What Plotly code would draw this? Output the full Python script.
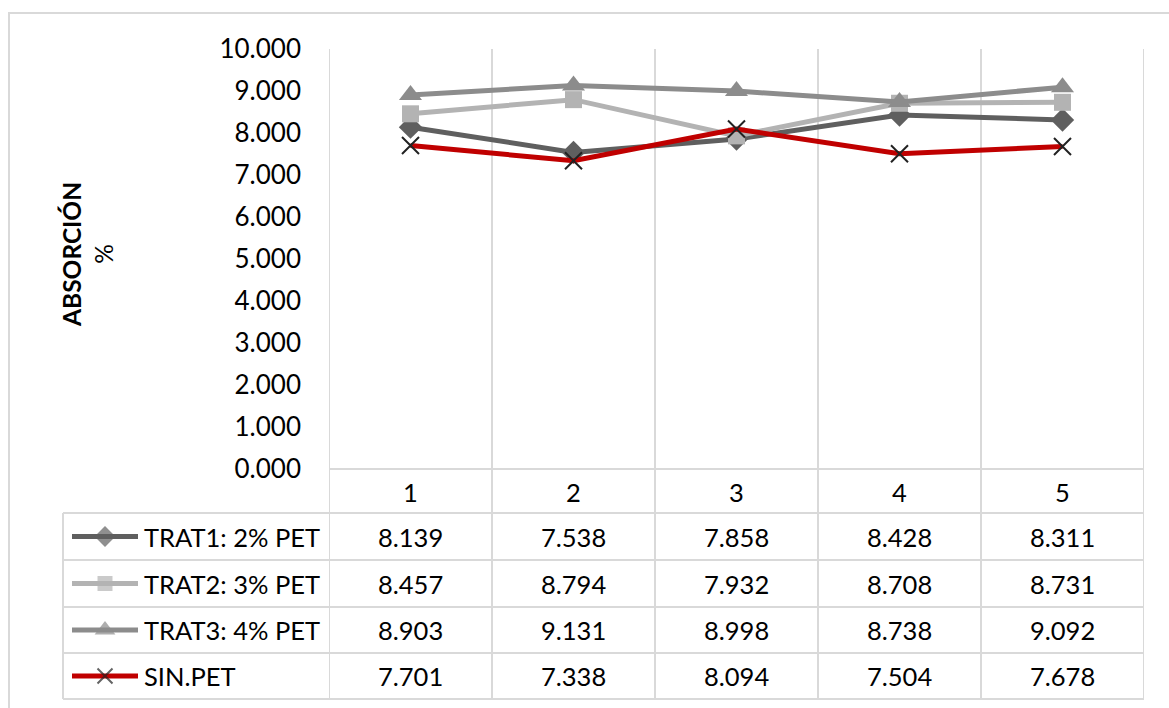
import plotly.graph_objects as go

# ---------------- data ----------------
categories = [1, 2, 3, 4, 5]
series_names = ["TRAT1: 2% PET", "TRAT2: 3% PET", "TRAT3: 4% PET", "SIN.PET"]
trat1 = [8.139, 7.538, 7.858, 8.428, 8.311]
trat2 = [8.457, 8.794, 7.932, 8.708, 8.731]
trat3 = [8.903, 9.131, 8.998, 8.738, 9.092]
sin_pet = [7.701, 7.338, 8.094, 7.504, 7.678]
y_ticks = [0, 1, 2, 3, 4, 5, 6, 7, 8, 9, 10]
y_title = "ABSORCIÓN"
y_unit = "%"

series_values = [trat1, trat2, trat3, sin_pet]

# ---------------- styling ----------------
W, H = 1169, 708
L, R, T, B = 329, 1144, 49, 469          # plot area in page pixels
row_lines = [469, 513, 560, 607, 653, 699]  # table horizontal rules
table_left = 63
FONT = "Lato"
GRID = "#d9d9d9"

styles = [
    dict(color="#5f5f5f", symbol="diamond", size=18, lc="#5f5f5f", lw=0),
    dict(color="#b3b3b3", symbol="square", size=17, lc="#b3b3b3", lw=0),
    dict(color="#8c8c8c", symbol="triangle-up", size=20, lc="#8c8c8c", lw=0),
    dict(color="#c00000", symbol="x-thin", size=17, lc="#222222", lw=2),
]

def fx(px):
    return px / W

def fy(py):
    return 1 - py / H

fig = go.Figure()

for name, vals, st in zip(series_names, series_values, styles):
    fig.add_trace(go.Scatter(
        x=categories, y=vals, name=name, mode="lines+markers",
        line=dict(color=st["color"], width=5),
        marker=dict(symbol=st["symbol"], size=st["size"], color=st["color"],
                    line=dict(color=st["lc"], width=st["lw"])),
        showlegend=False, cliponaxis=False,
    ))

# legend keys inside the table (full-page pixel axes)
key_x0, key_x1, key_mid = 72, 138, 105
for i, (name, st) in enumerate(zip(series_names, styles)):
    yc = (row_lines[i + 1] + row_lines[i + 2]) / 2
    fig.add_trace(go.Scatter(
        x=[key_x0, key_mid, key_x1], y=[yc, yc, yc], mode="lines+markers",
        line=dict(color=st["color"], width=5),
        marker=dict(symbol=st["symbol"], size=[0, st["size"] - 2, 0], color=st["color"],
                    line=dict(color=st["lc"], width=st["lw"])),
        xaxis="x2", yaxis="y2", showlegend=False, hoverinfo="skip",
    ))

shapes = []
# outer chart border
shapes.append(dict(type="rect", xref="paper", yref="paper", x0=fx(9), x1=fx(1175),
                   y0=fy(13), y1=fy(715), line=dict(color=GRID, width=2), layer="below"))
# vertical category boundaries (plot + table)
for k in range(len(categories) + 1):
    shapes.append(dict(type="line", xref="x", yref="paper", x0=0.5 + k, x1=0.5 + k,
                       y0=fy(T), y1=fy(row_lines[-1]), line=dict(color=GRID, width=2),
                       layer="below"))
# horizontal table rules
shapes.append(dict(type="line", xref="paper", yref="paper", x0=fx(L), x1=fx(R),
                   y0=fy(row_lines[0]), y1=fy(row_lines[0]), line=dict(color=GRID, width=2),
                   layer="below"))
for ry in row_lines[1:]:
    shapes.append(dict(type="line", xref="paper", yref="paper", x0=fx(table_left), x1=fx(R),
                       y0=fy(ry), y1=fy(ry), line=dict(color=GRID, width=2), layer="below"))
shapes.append(dict(type="line", xref="paper", yref="paper", x0=fx(table_left), x1=fx(table_left),
                   y0=fy(row_lines[1]), y1=fy(row_lines[-1]), line=dict(color=GRID, width=2),
                   layer="below"))

annotations = []
tfont = dict(family=FONT, size=25.5, color="#000000")
# category header row
hy = (row_lines[0] + row_lines[1]) / 2
for c in categories:
    annotations.append(dict(x=c, y=fy(hy + 1), xref="x", yref="paper", text=str(c),
                            showarrow=False, font=tfont, xanchor="center", yanchor="middle"))
# table rows
for i, (name, vals) in enumerate(zip(series_names, series_values)):
    yc = (row_lines[i + 1] + row_lines[i + 2]) / 2
    annotations.append(dict(x=fx(142), y=fy(yc), xref="paper", yref="paper", text=name,
                            showarrow=False, font=tfont, xanchor="left", yanchor="middle"))
    for c, v in zip(categories, vals):
        annotations.append(dict(x=c, y=fy(yc), xref="x", yref="paper", text=f"{v:.3f}",
                                showarrow=False, font=tfont, xanchor="center",
                                yanchor="middle"))
# y axis title
annotations.append(dict(x=fx(88), y=fy(255), xref="paper", yref="paper",
                        text=f"<b>{y_title}</b><br>{y_unit}", textangle=-90,
                        showarrow=False, font=dict(family=FONT, size=24.5, color="#000000"),
                        xanchor="center", yanchor="middle"))

fig.update_layout(
    width=W, height=H, margin=dict(l=0, r=0, t=0, b=0),
    paper_bgcolor="white", plot_bgcolor="rgba(0,0,0,0)",
    xaxis=dict(domain=[fx(L), fx(R)], range=[0.5, 5.5], showgrid=False, zeroline=False,
               showticklabels=False, ticks="", showline=False, fixedrange=True,
               anchor="y"),
    yaxis=dict(domain=[fy(B), fy(T)], range=[0, 10], tickvals=y_ticks, tickformat=".3f",
               showgrid=False, zeroline=False, showline=False, ticks="",
               ticklabelstandoff=27, automargin=False, anchor="x",
               tickfont=dict(family=FONT, size=26, color="#000000")),
    xaxis2=dict(domain=[0, 1], range=[0, W], visible=False, anchor="y2", fixedrange=True),
    yaxis2=dict(domain=[0, 1], range=[H, 0], visible=False, anchor="x2", fixedrange=True),
    shapes=shapes, annotations=annotations, showlegend=False,
)

fig.write_html("out.html", config={"displayModeBar": False},
               post_script="document.body.style.margin='0';document.body.style.overflow='hidden';")
